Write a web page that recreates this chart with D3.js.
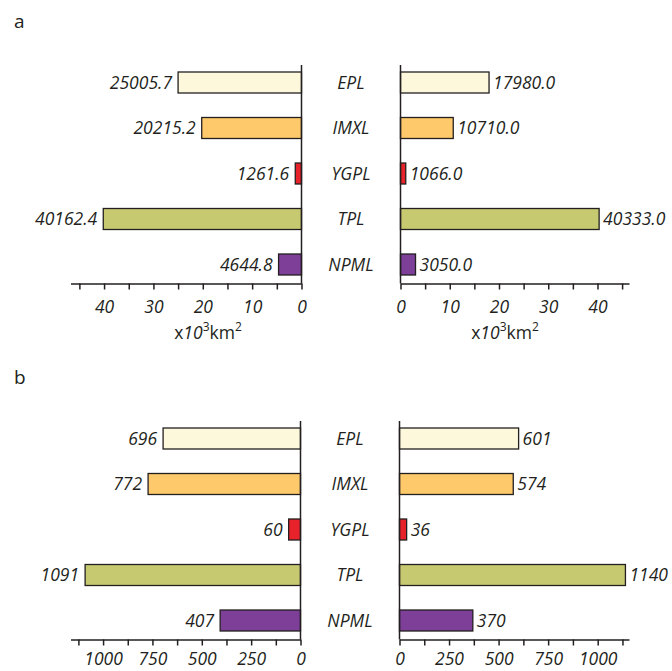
<!DOCTYPE html>
<html><head><meta charset="utf-8">
<script src="https://cdn.jsdelivr.net/npm/d3@7"></script>
<style>
body{margin:0;background:#fff;}
svg{display:block;font-family:"Open Sans",sans-serif;}
</style></head>
<body>
<svg id="c" width="672" height="671"></svg>
<script>
const categories = ["EPL","IMXL","YGPL","TPL","NPML"];
const colors = ["#fdf8dc","#fdc96b","#e8222a","#c6c970","#7d3f98"];
const areaLeft = [25005.7, 20215.2, 1261.6, 40162.4, 4644.8];
const areaRight = [17980.0, 10710.0, 1066.0, 40333.0, 3050.0];
const countLeft = [696, 772, 60, 1091, 407];
const countRight = [601, 574, 36, 1140, 370];
const areaTicks = [0,10,20,30,40];
const areaMinor = [5,15,25,35,45];
const countTicks = [0,250,500,750,1000];
const countMinor = [125,375,625,875,1125];

const svg = d3.select("#c");
const FS = 17.5;

function panel(opts){
  const g = svg.append("g").attr("transform", `translate(0,${opts.dy})`);
  const y = d3.scalePoint().domain(categories).range([82.5, 264.5]);
  const bh = 21;
  const axisY = 283.5;
  const xl = d3.scaleLinear().domain([0, opts.maxL]).range([opts.zeroL, 70.5]);
  const xr = d3.scaleLinear().domain([0, opts.maxR]).range([opts.zeroR, 629]);

  g.append("text").attr("x", 14).attr("y", 28).attr("font-size", 19).attr("fill","#231f20").text(opts.letter);

  categories.forEach((c,i)=>{
    const vl = opts.left[i]/opts.div, vr = opts.right[i]/opts.div;
    g.append("rect").attr("x", xl(vl)).attr("y", y(c)-bh/2)
      .attr("width", xl(0)-xl(vl)).attr("height", bh)
      .attr("fill", colors[i]).attr("stroke", "#231f20").attr("stroke-width", 1.3);
    g.append("rect").attr("x", xr(0)).attr("y", y(c)-bh/2)
      .attr("width", xr(vr)-xr(0)).attr("height", bh)
      .attr("fill", colors[i]).attr("stroke", "#231f20").attr("stroke-width", 1.3);
    g.append("text").attr("x", xl(vl)-6).attr("y", y(c)).attr("dy","0.35em")
      .attr("text-anchor","end").attr("font-style","italic").attr("font-size",FS)
      .attr("fill","#231f20").text(opts.fmt(opts.left[i]));
    g.append("text").attr("x", xr(vr)+4).attr("y", y(c)).attr("dy","0.35em")
      .attr("text-anchor","start").attr("font-style","italic").attr("font-size",FS)
      .attr("fill","#231f20").text(opts.fmt(opts.right[i]));
    g.append("text").attr("x", (opts.zeroL+opts.zeroR)/2).attr("y", y(c)).attr("dy","0.35em")
      .attr("text-anchor","middle").attr("font-style","italic").attr("font-size",FS)
      .attr("fill","#231f20").text(c);
  });

  [opts.zeroL, opts.zeroR].forEach(x=>{
    g.append("line").attr("x1",x).attr("x2",x).attr("y1",65).attr("y2",axisY)
      .attr("stroke","#231f20").attr("stroke-width",1.5);
  });

  function drawAxis(scale, major, minor){
    const ax = d3.axisBottom(scale).tickValues(major.concat(minor).sort((a,b)=>a-b))
      .tickSize(6).tickSizeOuter(0)
      .tickFormat(d => major.includes(d) ? d : "");
    const a = g.append("g").attr("transform", `translate(0,${axisY})`).call(ax);
    a.select(".domain").attr("stroke","#231f20").attr("stroke-width",1.5);
    a.selectAll(".tick line").attr("stroke","#231f20").attr("stroke-width",1.5);
    a.selectAll(".tick text").attr("font-family","Open Sans, sans-serif")
      .attr("font-size",FS).attr("font-style","italic").attr("fill","#231f20")
      .attr("y",opts.tickY);
  }
  drawAxis(xl, opts.major, opts.minor);
  drawAxis(xr, opts.major, opts.minor);

  if(opts.unit){
    [208, 505].forEach(cx=>{
      const t = g.append("text").attr("x",cx).attr("y",339).attr("text-anchor","middle")
        .attr("font-size",FS).attr("fill","#231f20");
      t.append("tspan").text("x");
      t.append("tspan").attr("font-style","italic").text("10");
      t.append("tspan").attr("font-size",12).attr("dy",-8).text("3");
      t.append("tspan").attr("dy",8).text("km");
      t.append("tspan").attr("font-size",12).attr("dy",-8).text("2");
    });
  }
}

panel({dy:0, letter:"a", left:areaLeft, right:areaRight, div:1000,
  maxL:46.8, maxR:46.4, zeroL:301.5, zeroR:400.5, tickY:17,
  major:areaTicks, minor:areaMinor, fmt:d=>d.toFixed(1), unit:true});
panel({dy:356, letter:"b", left:countLeft, right:countRight, div:1,
  maxL:1165, maxR:1158, zeroL:300.5, zeroR:399.5, tickY:13,
  major:countTicks, minor:countMinor, fmt:d=>String(d), unit:false});
</script>
</body></html>
